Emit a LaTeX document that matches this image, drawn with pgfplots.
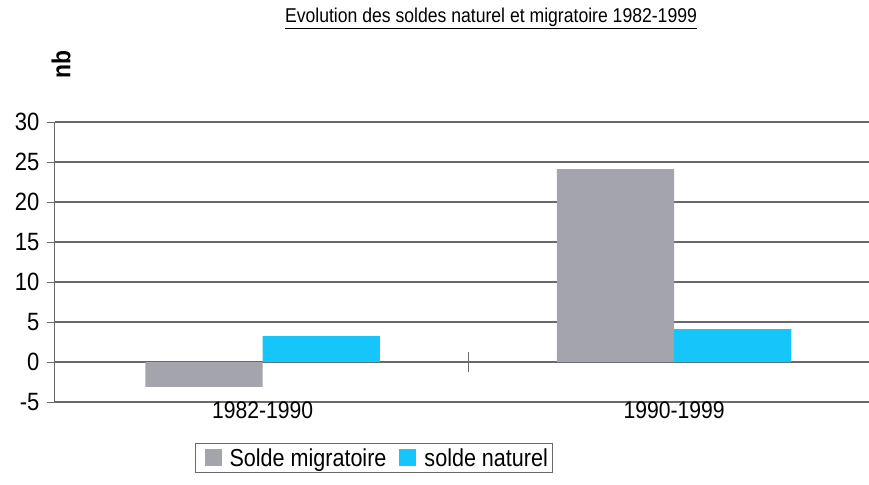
\documentclass[border=0pt]{standalone}
\usepackage{pgfplots}
\pgfplotsset{compat=1.18}
\usepackage{fontspec}
\setmainfont{Liberation Sans}[FakeStretch=0.88]
\definecolor{gbar}{RGB}{163,164,172}
\definecolor{cbar}{RGB}{22,198,250}
\definecolor{gridc}{RGB}{105,105,108}
\begin{document}
\begin{tikzpicture}
\begin{axis}[
  scale only axis,
  width=814pt, height=280pt,
  xmin=-0.505, xmax=1.474,
  ymin=-5, ymax=30,
  ytick={-5,0,5,10,15,20,25,30},
  xtick={0,1},
  xticklabels={1982-1990,1990-1999},
  xticklabel style={anchor=center, yshift=0pt, font=\fontsize{24}{26}\selectfont},
  yticklabel style={font=\fontsize{25}{27}\selectfont, xshift=-4pt},
  /pgf/number format/assume math mode=true,
  major x tick style={draw=none},
  tick align=outside,
  major tick length=8pt,
  ytick style={gridc, line width=1pt},
  ymajorgrids,
  grid style={gridc, line width=1.2pt},
  axis x line*=bottom,
  axis y line*=left,
  x axis line style={draw=none},
  y axis line style={-, gridc, line width=1pt},
  clip=false,
  legend columns=2,
  legend style={at={(axis description cs:0.172,-0.146)}, anchor=north west,
    draw=gridc, line width=1pt, font=\fontsize{24.5}{27}\selectfont,
    inner xsep=3pt, inner ysep=3pt,
    /tikz/every odd column/.append style={column sep=6pt},
    /tikz/every even column/.append style={column sep=5pt}},
  legend image code/.code={\path (0pt,0pt) -- (1pt,0pt); \fill[#1, draw=none] (6pt,-8pt) rectangle (23pt,9pt);},
]
\addplot[ybar, bar width=0.285, bar shift=-0.1425, fill=gbar, draw=none] coordinates {(0,-3.1) (1,24.1)};
\addlegendentry{Solde migratoire}
\addplot[ybar, bar width=0.285, bar shift=0.1425, fill=cbar, draw=none] coordinates {(0,3.25) (1,4.1)};
\addlegendentry{solde naturel}
\draw[gridc, line width=1pt] (axis cs:0.5,-1.2) -- (axis cs:0.5,1.2);
\coordinate (ll) at (rel axis cs:0,0);
\end{axis}
\node[font=\fontsize{20}{24}\selectfont] at ([shift={(436pt,384pt)}]ll) {\underline{Evolution des soldes naturel et migratoire 1982-1999}};
\node[font=\bfseries\fontsize{26}{28}\selectfont, rotate=90] at ([shift={(6pt,337pt)}]ll) {nb};
\pgfresetboundingbox
\path[use as bounding box] ([shift={(-55pt,-82pt)}]ll) rectangle ([shift={(814pt,402pt)}]ll);
\end{tikzpicture}
\end{document}
